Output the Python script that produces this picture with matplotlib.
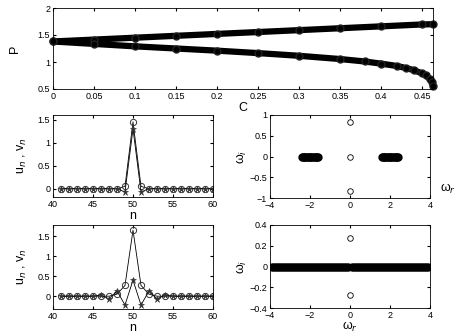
import numpy as np
import matplotlib
matplotlib.use('Agg')
import matplotlib.pyplot as plt

plt.rcParams['font.family'] = ['Liberation Sans', 'DejaVu Sans']
plt.rcParams['xtick.direction'] = 'in'
plt.rcParams['ytick.direction'] = 'in'
plt.rcParams['xtick.top'] = True
plt.rcParams['ytick.right'] = True
plt.rcParams['xtick.major.size'] = 2.5
plt.rcParams['ytick.major.size'] = 2.5
plt.rcParams['axes.linewidth'] = 0.6

# top panel: P vs C, two branches
C_up = [0.0, 0.05, 0.1, 0.15, 0.2, 0.25, 0.3, 0.35, 0.4, 0.45, 0.4635]
P_up = [1.38, 1.415, 1.45, 1.485, 1.52, 1.555, 1.59, 1.625, 1.66, 1.695, 1.70]
C_lo = [0.0, 0.05, 0.1, 0.15, 0.2, 0.25, 0.3, 0.35, 0.38, 0.4, 0.42, 0.43, 0.44,
        0.45, 0.455, 0.46, 0.462, 0.4635]
P_lo = [1.38, 1.335, 1.29, 1.25, 1.21, 1.165, 1.115, 1.055, 1.01, 0.97, 0.925,
        0.89, 0.85, 0.79, 0.75, 0.68, 0.63, 0.55]

# middle-left profile
n = list(range(41, 61))
u1 = [0]*8 + [0.05, 1.45, 0.05] + [0]*9
v1 = [0]*8 + [-0.07, 1.3, -0.07] + [0]*9

# bottom-left profile
u2 = [0, 0, 0, 0, 0, 0, 0, 0.05, 0.27, 1.65, 0.27, 0.05, 0, 0, 0, 0, 0, 0, 0, 0]
v2 = [0, 0, 0, 0, 0, 0.03, -0.07, 0.13, -0.22, 0.4, -0.22, 0.13, -0.07, 0.03, 0, 0, 0, 0, 0, 0]

# spectra
wr_band1 = [-2.42, -2.36, -2.3, -2.24, -2.18, -2.12, -2.06, -2.0, -1.94, -1.88, -1.82,
            -1.76, -1.7, -1.64, -1.58, 1.58, 1.64, 1.7, 1.76, 1.82, 1.88, 1.94, 2.0,
            2.06, 2.12, 2.18, 2.24, 2.3, 2.36, 2.42]
wr_eig1 = [0, 0, 0]
wi_eig1 = [0.83, 0, -0.83]

wr_band2 = [-3.9, -3.8, -3.7, -3.6, -3.5, -3.4, -3.3, -3.2, -3.1, -3.0, -2.9, -2.8,
            -2.7, -2.6, -2.5, -2.4, -2.3, -2.2, -2.1, -2.0, -1.9, -1.8, -1.7, -1.6,
            -1.5, -1.4, -1.3, -1.2, -1.1, -1.0, -0.9, -0.8, -0.7, -0.6, -0.5, -0.4,
            -0.3, -0.2, -0.1, 0.1, 0.2, 0.3, 0.4, 0.5, 0.6, 0.7, 0.8, 0.9, 1.0, 1.1,
            1.2, 1.3, 1.4, 1.5, 1.6, 1.7, 1.8, 1.9, 2.0, 2.1, 2.2, 2.3, 2.4, 2.5, 2.6,
            2.7, 2.8, 2.9, 3.0, 3.1, 3.2, 3.3, 3.4, 3.5, 3.6, 3.7, 3.8, 3.9]
wr_eig2 = [0, 0, 0]
wi_eig2 = [0.27, 0, -0.27]

fig = plt.figure(figsize=(4.63, 3.36), dpi=100)
W, H = 463.0, 336.0

def ax_at(l, t, r, b):
    return fig.add_axes([l/W, 1-b/H, (r-l)/W, (b-t)/H])

tfs = 6.5
lfs = 9

ax = ax_at(53, 8, 433, 89)
ax.plot(C_up, P_up, '-', color='k', lw=4.5, solid_capstyle='round')
ax.plot(C_lo, P_lo, '-', color='k', lw=4.5, solid_capstyle='round')
ax.plot(C_up, P_up, 'o', color='k', ms=5, mfc='k', mec='#222222', clip_on=False)
ax.plot(C_lo, P_lo, 'o', color='k', ms=5, mfc='k', mec='#222222', clip_on=False)
ax.set_xlim(0, 0.4635)
ax.set_ylim(0.5, 2)
ax.set_xticks([0, 0.05, 0.1, 0.15, 0.2, 0.25, 0.3, 0.35, 0.4, 0.45])
ax.set_xticklabels(['0', '0.05', '0.1', '0.15', '0.2', '0.25', '0.3', '0.35', '0.4', '0.45'])
ax.set_yticks([0.5, 1, 1.5, 2])
ax.set_yticklabels(['0.5', '1', '1.5', '2'])
ax.tick_params(labelsize=tfs, pad=2)
ax.set_xlabel('C', fontsize=lfs, labelpad=1)
ax.set_ylabel('P', fontsize=lfs, labelpad=12)

for (t, b, u, v, yl, yt) in [(115, 197, u1, v1, (-0.18, 1.6), [0, 0.5, 1, 1.5]),
                             (225, 309, u2, v2, (-0.32, 1.78), [0, 0.5, 1, 1.5])]:
    ax = ax_at(53, t, 213, b)
    ax.plot(n, u, '-', color='k', lw=0.6, marker='o', ms=4.5, mfc='none', mec='#333333', mew=0.7)
    ax.plot(n, v, '-', color='k', lw=0.6, marker='*', ms=5, mfc='#333333', mec='#333333', mew=0.4)
    ax.set_xlim(40, 60)
    ax.set_ylim(*yl)
    ax.set_xticks([40, 45, 50, 55, 60])
    ax.set_yticks(yt)
    ax.set_yticklabels(['0', '0.5', '1', '1.5'])
    ax.tick_params(labelsize=tfs, pad=2)
    ax.set_xlabel('n', fontsize=lfs, labelpad=1)
    ax.set_ylabel('u$_n$ , v$_n$', fontsize=lfs, labelpad=6)

ax = ax_at(270, 115, 430, 198)
ax.plot(wr_band1, [0]*len(wr_band1), 'o', color='k', ms=5, mfc='k')
ax.plot(wr_eig1, wi_eig1, 'o', ms=4, mfc='none', mec='k', mew=0.6)
ax.set_xlim(-4, 4)
ax.set_ylim(-1, 1)
ax.set_xticks([-4, -2, 0, 2, 4])
ax.set_xticklabels(['\u22124', '\u22122', '0', '2', '4'])
ax.set_yticks([-1, -0.5, 0, 0.5, 1])
ax.set_yticklabels(['\u22121', '\u22120.5', '0', '0.5', '1'])
ax.tick_params(labelsize=tfs, pad=2)
ax.set_ylabel('\u03c9$_i$', fontsize=lfs, labelpad=0)
ax.text(1.06, 0.02, '\u03c9$_r$', transform=ax.transAxes, fontsize=lfs, ha='left', va='bottom')

ax = ax_at(270, 225, 430, 308)
ax.plot(wr_band2, [0]*len(wr_band2), '-', color='k', lw=0.6)
ax.plot(wr_band2, [0]*len(wr_band2), 'o', color='k', ms=5, mfc='k')
ax.plot(wr_eig2, wi_eig2, 'o', ms=4, mfc='none', mec='k', mew=0.6)
ax.set_xlim(-4, 4)
ax.set_ylim(-0.4, 0.4)
ax.set_xticks([-4, -2, 0, 2, 4])
ax.set_xticklabels(['\u22124', '\u22122', '0', '2', '4'])
ax.set_yticks([-0.4, -0.2, 0, 0.2, 0.4])
ax.set_yticklabels(['\u22120.4', '\u22120.2', '0', '0.2', '0.4'])
ax.tick_params(labelsize=tfs, pad=2)
ax.set_ylabel('\u03c9$_i$', fontsize=lfs, labelpad=0)
ax.set_xlabel('\u03c9$_r$', fontsize=lfs, labelpad=0)

fig.savefig('out.png', dpi=100)
